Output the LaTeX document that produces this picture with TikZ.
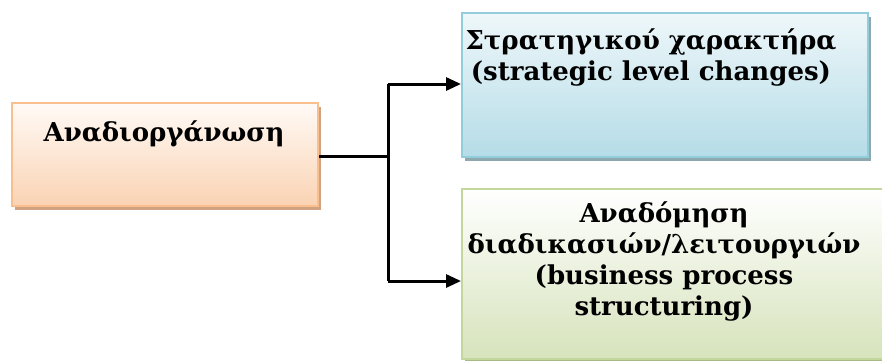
\documentclass[tikz,border=0pt]{standalone}
\usepackage{fontspec}
\setmainfont{DejaVu Serif}
\usetikzlibrary{arrows.meta,shadows}

\definecolor{orgBorder}{HTML}{F9BF8F}
\definecolor{orgTop}{HTML}{FFFAF6}
\definecolor{orgBot}{HTML}{FAD3B3}
\definecolor{orgShadow}{HTML}{CFA282}
\definecolor{bluBorder}{HTML}{92CDDC}
\definecolor{bluTop}{HTML}{EEF7FA}
\definecolor{bluBot}{HTML}{B5DCE7}
\definecolor{bluShadow}{HTML}{8EA8B0}
\definecolor{grnBorder}{HTML}{C3D69B}
\definecolor{grnTop}{HTML}{FFFFFF}
\definecolor{grnBot}{HTML}{D6E3BB}
\definecolor{grnShadow}{HTML}{A9B98A}

\tikzset{
  box/.style={rectangle, anchor=north west, inner sep=0pt, line width=2.2pt},
  orangebox/.style={box, draw=orgBorder, top color=orgTop, bottom color=orgBot,
    drop shadow={shadow xshift=3pt, shadow yshift=-4pt, fill=orgShadow, opacity=1}},
  bluebox/.style={box, draw=bluBorder, top color=bluTop, bottom color=bluBot,
    drop shadow={shadow xshift=3pt, shadow yshift=-4pt, fill=bluShadow, opacity=1}},
  greenbox/.style={box, draw=grnBorder, top color=grnTop, bottom color=grnBot,
    drop shadow={shadow xshift=3pt, shadow yshift=-4pt, fill=grnShadow, opacity=1}},
  % multi-line labels are placed by the baseline of their last line
  label/.style={anchor=base, align=center, inner sep=0pt,
    font=\fontsize{26pt}{31pt}\selectfont\bfseries},
  link/.style={line width=3pt},
  arrowlink/.style={link, -{Triangle[length=15pt,width=13pt]}},
}

\begin{document}
\begin{tikzpicture}[x=1pt,y=-1pt]
  \useasboundingbox (0,0) rectangle (882,360);
  \clip (0,0) rectangle (882,360);

  % boxes
  \node[orangebox, minimum width=306pt, minimum height=103pt] (reorg) at (11,102) {};
  \node[bluebox, minimum width=406pt, minimum height=144pt] (strat) at (461,12) {};
  \node[greenbox, minimum width=440pt, minimum height=170pt] (bpr) at (461,188) {};

  % texts
  \node[label] (reorgtext) at (164,141) {Αναδιοργάνωση};
  \node[label] (strattext) at (651,80) {Στρατηγικού χαρακτήρα\\(strategic level changes)};
  \node[label] (bprtext) at (664,315) {Αναδόμηση\\διαδικασιών/λειτουργιών\\(business process\\structuring)};

  % connectors
  \coordinate (split) at (388,156);
  \coordinate (upper) at (388,84);
  \coordinate (lower) at (388,281);
  \draw[link] (reorg.east |- split) -- (split);
  \draw[link] (upper) -- (lower);
  \draw[arrowlink] (upper) -- (strat.west |- upper);
  \draw[arrowlink] (lower) -- (bpr.west |- lower);
\end{tikzpicture}
\end{document}
